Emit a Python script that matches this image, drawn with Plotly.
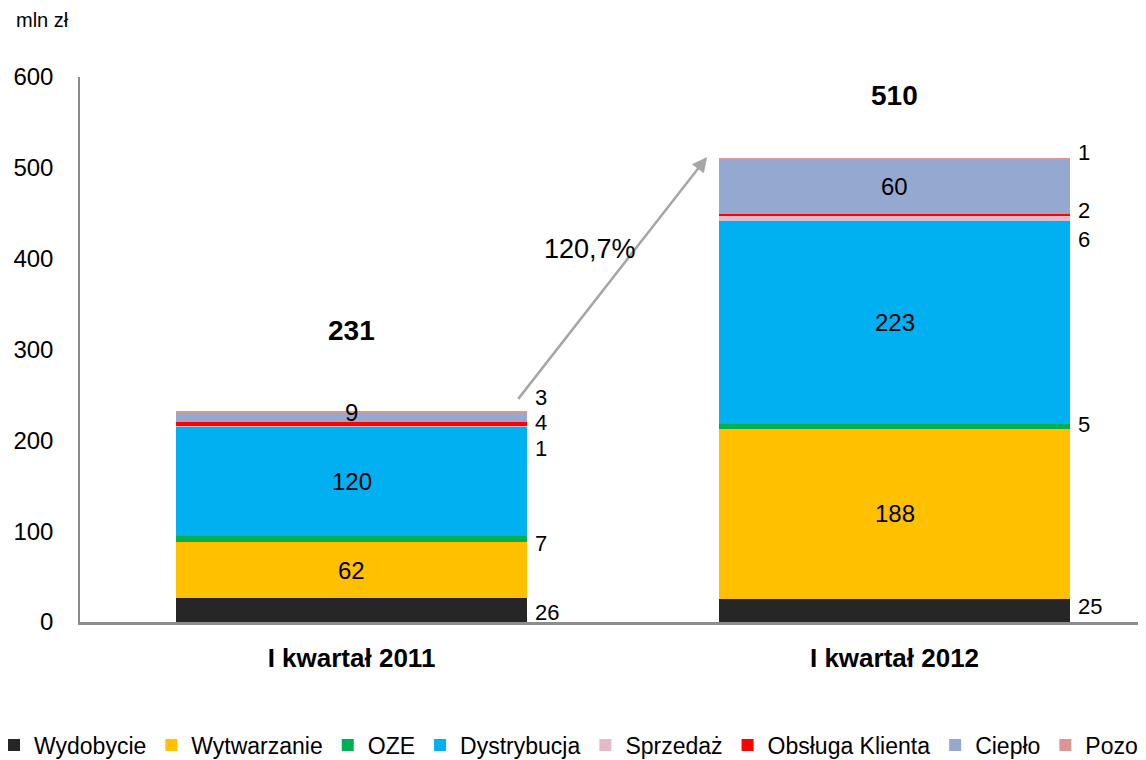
import plotly.graph_objects as go

# ---- dane ----
kwartaly = ["I kwartał 2011", "I kwartał 2012"]
segmenty = ["Wydobycie", "Wytwarzanie", "OZE", "Dystrybucja", "Sprzedaż",
            "Obsługa Klienta", "Ciepło", "Pozostałe"]
wartosci_2011 = [26, 62, 7, 120, 1, 4, 9, 3]
wartosci_2012 = [25, 188, 5, 223, 6, 2, 60, 1]
sumy = [231, 510]
dynamika = "120,7%"

kolory = ["#262626", "#FFC000", "#00B050", "#00B0F0", "#E6B9CA",
          "#FF0000", "#95A9D0", "#D99694"]

# etykiety wewnątrz słupka (True) / obok słupka (False)
wewnatrz_2011 = [False, True, False, True, False, False, True, False]
wewnatrz_2012 = [False, True, False, True, False, False, True, False]
# przesunięcia pionowe etykiet (w jednostkach osi), żeby się nie nakładały
przes_2011 = [-2, 0, -5, 0, -24, 2, 6, 17]
przes_2012 = [5, 0, 2, 0, -23, 5, 0, 7]

FONT = "Liberation Sans, Arial, sans-serif"

# wykres szerszy niż okno - prawa część (jak w oryginale) jest ucięta
W, H = 1440, 760
L, T, B = 72, 69, 146
PW = W - L          # szerokość obszaru wykresu
KAT = 543           # odstęp między kategoriami w px
x_max = -0.5 + PW / KAT

fig = go.Figure()
for i, nazwa in enumerate(segmenty):
    fig.add_trace(go.Bar(
        x=kwartaly,
        y=[wartosci_2011[i], wartosci_2012[i]],
        name=nazwa,
        marker=dict(color=kolory[i], line=dict(width=0)),
        width=0.646,
    ))

annotations = []
for k, (vals, wew, przes) in enumerate([(wartosci_2011, wewnatrz_2011, przes_2011),
                                         (wartosci_2012, wewnatrz_2012, przes_2012)]):
    dol = 0
    for i, v in enumerate(vals):
        srodek = dol + v / 2 + przes[i]
        if wew[i]:
            annotations.append(dict(x=k, y=srodek, xref="x", yref="y", text=str(v),
                                    showarrow=False, font=dict(size=24, color="black")))
        else:
            annotations.append(dict(x=k + 0.335, y=srodek, xref="x", yref="y", text=str(v),
                                    showarrow=False, xanchor="left",
                                    font=dict(size=22, color="black")))
        dol += v

# sumy nad słupkami
annotations.append(dict(x=0, y=sumy[0] + 90, text="<b>%d</b>" % sumy[0], showarrow=False,
                        font=dict(size=28, color="black")))
annotations.append(dict(x=1, y=sumy[1] + 70, text="<b>%d</b>" % sumy[1], showarrow=False,
                        font=dict(size=28, color="black")))
# strzałka z dynamiką
annotations.append(dict(x=0.655, y=sumy[1] + 2, ax=0.305, ay=sumy[0] + 13,
                        xref="x", yref="y", axref="x", ayref="y",
                        showarrow=True, arrowhead=2, arrowsize=1.2, arrowwidth=2.5,
                        arrowcolor="#A6A6A6", text=""))
annotations.append(dict(x=0.44, y=411, text=dynamika, showarrow=False,
                        font=dict(size=27, color="black")))
annotations.append(dict(x=(6 - L) / PW, y=1 + 57 / 545, xref="paper", yref="paper",
                        text="mln zł", showarrow=False, xanchor="left", yanchor="middle",
                        font=dict(size=20, color="black")))

fig.update_layout(
    barmode="stack",
    width=W, height=H,
    margin=dict(l=L, r=0, t=T, b=B, autoexpand=False),
    paper_bgcolor="white", plot_bgcolor="white",
    font=dict(family=FONT, color="black"),
    showlegend=True,
    legend=dict(orientation="h", x=(-14 - L) / PW, xanchor="left", y=-123 / 545,
                yanchor="middle", font=dict(size=23), traceorder="normal",
                itemwidth=30, tracegroupgap=0),
    annotations=annotations,
)
fig.update_xaxes(range=[-0.5, x_max], showline=True, linecolor="#8C8C8C", linewidth=3,
                 ticks="", tickfont=dict(size=26, family=FONT), showgrid=False,
                 ticklabelstandoff=11, automargin=False,
                 tickvals=[0, 1], ticktext=["<b>%s</b>" % q for q in kwartaly])
fig.update_yaxes(range=[0, 600], dtick=100, showline=True, linecolor="#8C8C8C", linewidth=1.5,
                 showgrid=False, zeroline=False, ticks="", tickfont=dict(size=24),
                 ticklabelstandoff=20, automargin=False)

fig.write_html("out.html")
